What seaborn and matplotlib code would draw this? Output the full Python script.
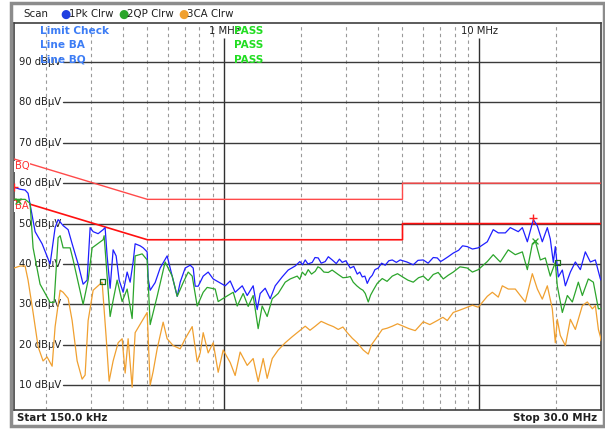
import pandas as pd
import matplotlib
matplotlib.use("Agg")
import matplotlib.pyplot as plt
import matplotlib.transforms as mtrans
from matplotlib.patches import Rectangle
import seaborn as sns

# Trace readings from the screenshot: (frequency MHz, level dBuV)
pk_points = [
    (0.150, 59), (0.1585, 58.5), (0.1658, 58.3), (0.1703, 57.5), (0.1815, 48), (0.1933, 45),
    (0.2078, 40), (0.2174, 49), (0.2234, 51), (0.2337, 49.5), (0.2445, 48.5), (0.2535, 45),
    (0.2676, 40), (0.2799, 35), (0.2902, 36), (0.2982, 49), (0.3064, 48), (0.3205, 47.5),
    (0.3353, 48.5), (0.3414, 49), (0.3476, 42), (0.3572, 34), (0.3670, 43.5), (0.3771, 42),
    (0.3875, 36), (0.4017, 33), (0.4165, 38), (0.4279, 35.5), (0.4396, 40.5), (0.4477, 45),
    (0.4684, 44.5), (0.4813, 44), (0.4989, 43), (0.5035, 36.4), (0.5127, 33.5), (0.5363, 35.4),
    (0.5610, 39), (0.5976, 42), (0.6141, 39), (0.6544, 32), (0.6723, 35.5), (0.7033, 39),
    (0.7358, 39.7), (0.7560, 39), (0.7698, 34.5), (0.7910, 34.5), (0.8274, 37), (0.8655, 38),
    (0.9055, 36.3), (0.9473, 35.6), (1.009, 34.6), (1.056, 35.8), (1.104, 33), (1.177, 34.6),
    (1.231, 32.2), (1.299, 34.6), (1.347, 28.7), (1.384, 32.7), (1.448, 34), (1.515, 31.4),
    (1.585, 34.6), (1.688, 36.8), (1.782, 38.5), (1.898, 39.5), (1.98, 40.6), (2.03, 39.8),
    (2.078, 41), (2.13, 40.0), (2.214, 40.4), (2.27, 41.6), (2.337, 41.5), (2.40, 40.2),
    (2.489, 40.6), (2.56, 41.8), (2.652, 41), (2.75, 40.1), (2.83, 41.2), (2.902, 40.4),
    (3.00, 40.8), (3.120, 39), (3.22, 39.4), (3.323, 37.5), (3.40, 38.0), (3.477, 36.8),
    (3.56, 37.0), (3.638, 35.2), (3.72, 36.5), (3.806, 37.2), (3.90, 38.6), (4.017, 39),
    (4.14, 40.2), (4.279, 39.7), (4.42, 40.8), (4.559, 41), (4.73, 40.4), (4.899, 41),
    (5.2, 40.5), (5.510, 39.8), (5.75, 40.9), (6.031, 41), (6.3, 40.2), (6.6, 41.6),
    (6.844, 41.5), (7.05, 40.6), (7.226, 41), (7.55, 41.8), (7.907, 42.7), (8.3, 43.4),
    (8.6, 44.5), (8.975, 44.3), (9.4, 43.7), (9.910, 44), (10.75, 45.5), (11.34, 48.5),
    (11.87, 47.7), (12.65, 47.7), (13.23, 49), (14.22, 48), (14.75, 49), (15.43, 45.5),
    (16.29, 51), (16.89, 49.4), (17.66, 45.5), (18.48, 49), (18.98, 46.2), (19.51, 40.4),
    (19.86, 44.3), (20.41, 36.8), (21.16, 38.5), (21.75, 34.6), (22.75, 38), (23.80, 40.5),
    (24.90, 38.6), (26.04, 43), (27.25, 40.5), (28.51, 41), (29.83, 36.3), (30.0, 36),
]

qp_points = [
    (0.150, 56), (0.1658, 56), (0.1734, 55), (0.1782, 44), (0.1898, 35), (0.2078, 30.5),
    (0.2154, 30.5), (0.2234, 46.5), (0.2275, 47), (0.2337, 44), (0.2489, 44), (0.2558, 41),
    (0.2799, 30), (0.2929, 36), (0.3037, 44), (0.3353, 46), (0.3384, 47), (0.3476, 37),
    (0.3572, 27), (0.3670, 31), (0.3805, 36), (0.3981, 30.7), (0.4165, 33.8), (0.4357, 26.5),
    (0.4477, 42), (0.4770, 42.5), (0.4989, 41), (0.5127, 25), (0.5461, 32), (0.5869, 40.5),
    (0.6253, 37), (0.6544, 32), (0.6907, 35.4), (0.7226, 38), (0.7492, 37), (0.7838, 29.6),
    (0.8274, 33), (0.8577, 34.2), (0.9220, 33.8), (0.9473, 30.7), (1.009, 31.8), (1.085, 33),
    (1.125, 29.6), (1.187, 32.7), (1.242, 29.5), (1.299, 32.2), (1.359, 24), (1.409, 29.6),
    (1.474, 27), (1.543, 31.4), (1.628, 32.7), (1.735, 35.5), (1.815, 36.3), (1.933, 37),
    (1.98, 36.2), (2.022, 38), (2.08, 37.2), (2.135, 38.6), (2.20, 37.5), (2.275, 38.2),
    (2.33, 39.3), (2.380, 39), (2.46, 38.0), (2.558, 37.9), (2.65, 38.5), (2.800, 37.4),
    (2.92, 36.6), (3.037, 36.7), (3.12, 36.9), (3.205, 35.5), (3.31, 34.6), (3.415, 33.9),
    (3.50, 33.5), (3.573, 32.7), (3.671, 30.6), (3.75, 32.3), (3.840, 33.5), (3.98, 35.2),
    (4.165, 36.4), (4.35, 35.7), (4.559, 37), (4.78, 37.6), (5.035, 36.7), (5.25, 36.0),
    (5.510, 35.5), (5.78, 36.6), (6.031, 37), (6.3, 35.9), (6.601, 37.4), (6.9, 37.9),
    (7.226, 36.3), (7.55, 37.2), (7.907, 38), (8.4, 39.3), (8.975, 39), (9.4, 38.0),
    (9.910, 38.6), (10.75, 40.6), (11.34, 42.3), (11.87, 41), (12.09, 40.5), (12.99, 43.5),
    (13.84, 42.3), (14.75, 43), (15.43, 38.6), (16.14, 45), (16.58, 45.7), (17.35, 41),
    (18.15, 41.5), (18.98, 37), (19.86, 40.4), (20.22, 34.6), (21.16, 28), (22.14, 32.2),
    (23.16, 30.6), (24.45, 35.5), (25.35, 32.2), (26.76, 36.3), (28.00, 35.5), (29.30, 28.9),
    (30.0, 29),
]

ca_points = [
    (0.150, 39), (0.1585, 39.5), (0.1658, 39.5), (0.1703, 36), (0.1782, 28), (0.1865, 19.5),
    (0.1950, 16), (0.2022, 17), (0.2116, 14.7), (0.2174, 24.5), (0.2275, 33.5), (0.2337, 33),
    (0.2445, 31.5), (0.2535, 26), (0.2652, 16), (0.2774, 11.5), (0.2850, 12.5), (0.2929, 26),
    (0.3064, 33.5), (0.3323, 35.5), (0.3445, 22), (0.3540, 11), (0.3670, 16), (0.3840, 20.5),
    (0.3981, 21.5), (0.4091, 13), (0.4202, 21.5), (0.4357, 9.5), (0.4477, 23), (0.4989, 28),
    (0.5127, 10), (0.5267, 13.4), (0.5461, 19), (0.5764, 25.6), (0.5976, 21.5), (0.6310, 19.8),
    (0.6723, 19), (0.7033, 21.5), (0.7492, 24.5), (0.7838, 15.8), (0.8054, 18), (0.8274, 23),
    (0.8655, 18), (0.9055, 20.5), (0.9473, 13.2), (0.9910, 18.7), (1.056, 15.6), (1.104, 12.4),
    (1.155, 18.2), (1.231, 14.9), (1.299, 16.6), (1.359, 10.9), (1.422, 16.6), (1.474, 11.7),
    (1.543, 16.6), (1.628, 18.7), (1.735, 20.5), (1.848, 22), (1.933, 23), (2.078, 24.6),
    (2.17, 23.6), (2.275, 24.6), (2.40, 25.8), (2.558, 25), (2.68, 24.5), (2.800, 23.8),
    (2.92, 24.4), (3.037, 23), (3.18, 21.6), (3.323, 20.5), (3.509, 18.7), (3.671, 17.7),
    (3.78, 20.0), (3.910, 21.3), (4.165, 23.8), (4.35, 24.1), (4.559, 24.6), (4.78, 25.2),
    (5.035, 24.6), (5.3, 24.0), (5.610, 23.5), (6.031, 25.7), (6.4, 25.0), (6.844, 26),
    (7.2, 26.8), (7.492, 26), (7.907, 28), (8.4, 28.6), (8.975, 29.3), (9.4, 29.8),
    (9.910, 29.3), (10.75, 32), (11.25, 33), (11.87, 31.8), (12.31, 34.6), (12.99, 33.8),
    (13.84, 33.8), (15.15, 30.6), (16.14, 37.6), (16.89, 33.8), (17.66, 31.3), (18.48, 34.6),
    (19.33, 28.9), (19.86, 20.5), (20.22, 26.3), (20.78, 22.3), (21.75, 19.8), (22.75, 26.3),
    (23.80, 23.8), (25.35, 29.7), (26.52, 30.6), (27.75, 28.9), (28.51, 29.7), (29.30, 23.8),
    (29.83, 22), (30.0, 21),
]

# final-measurement markers seen on the screen: (freq MHz, level dBuV)
pk_marks = [(0.150, 59), (16.29, 51.3)]
qp_marks = [(0.156, 55.6), (16.5, 45.6)]
box_marks = [(0.333, 35.6), (20.22, 40.4)]

# limit lines
limit_freq = [0.15, 0.5, 5.0, 5.0, 30.0]
bq_level = [66, 56, 56, 60, 60]
ba_level = [56, 46, 46, 50, 50]

grid_levels = [10, 20, 30, 40, 50, 60, 70, 80, 90]
dashed_freqs = [0.2, 0.3, 0.4, 0.5, 0.6, 0.7, 0.8, 0.9,
                2, 3, 4, 5, 6, 7, 8, 9, 20]

sns.set_style("white")
plt.rcParams["font.family"] = ["DejaVu Sans"]

W, H = 605, 429
fig = plt.figure(figsize=(W / 100, H / 100), dpi=100)
fig.patch.set_facecolor("white")

# outer instrument frame
fig.patches.append(Rectangle((11 / W, 3 / H), 593 / W, 423 / H, transform=fig.transFigure,
                             fill=False, edgecolor="#8c8c8c", linewidth=2.5))

ax = fig.add_axes([14 / W, 1 - 410 / H, 587 / W, 387 / H])
ax.set_xscale("log")
ax.set_xlim(0.15, 30)
ax.set_ylim(3.86, 99.65)
ax.set_xticks([])
ax.set_yticks([])
ax.minorticks_off()
for s in ax.spines.values():
    s.set_color("#404040")
    s.set_linewidth(1.2)

# grid
for f in dashed_freqs:
    ax.axvline(f, color="#9a9a9a", lw=0.8, ls=(0, (3, 3)), zorder=1)
for f in [1, 10]:
    ax.vlines(f, 3.86, 95.9, color="#303030", lw=1.0, zorder=1)
for lv in grid_levels:
    ax.axhline(lv, xmin=49 / 587, color="#3a3a3a", lw=1.0, zorder=1)

blend = mtrans.blended_transform_factory(ax.transAxes, ax.transData)
for lv in grid_levels:
    ax.text(5 / 587, lv, f"{lv} dBµV", transform=blend, fontsize=7.2, color="#202020",
            va="center", ha="left", zorder=2,
            bbox=dict(facecolor="white", edgecolor="none", pad=0.2))

ax.text(1, 97.7, "1 MHz", fontsize=7.2, ha="center", va="center", color="#202020", zorder=2)
ax.text(10, 97.7, "10 MHz", fontsize=7.2, ha="center", va="center", color="#202020", zorder=2)

# limit lines
sns.lineplot(x=limit_freq, y=bq_level, ax=ax, color="#ff4a4a", lw=1.0, sort=False,
             estimator=None, zorder=3)
sns.lineplot(x=limit_freq, y=ba_level, ax=ax, color="#ff1010", lw=1.2, sort=False,
             estimator=None, zorder=3)
ax.text(0.151, 64.2, "BQ", fontsize=7.2, color="#ff3030", va="center", ha="left", zorder=4,
        bbox=dict(facecolor="white", edgecolor="none", pad=0.4))
ax.text(0.151, 54.3, "BA", fontsize=7.2, color="#ff3030", va="center", ha="left", zorder=4,
        bbox=dict(facecolor="white", edgecolor="none", pad=0.4))

# traces
pk_freq, pk_level = zip(*pk_points)
qp_freq, qp_level = zip(*qp_points)
ca_freq, ca_level = zip(*ca_points)
traces = pd.concat([
    pd.DataFrame({"freq": pk_freq, "level": pk_level, "trace": "1Pk"}),
    pd.DataFrame({"freq": qp_freq, "level": qp_level, "trace": "2QP"}),
    pd.DataFrame({"freq": ca_freq, "level": ca_level, "trace": "3CA"}),
])
palette = {"1Pk": "#1f1fff", "2QP": "#2ca52c", "3CA": "#f0a030"}
sns.lineplot(data=traces, x="freq", y="level", hue="trace", palette=palette, ax=ax,
             lw=0.9, sort=False, estimator=None, legend=False, zorder=5)

# measurement markers
mx, my = zip(*pk_marks)
sns.scatterplot(x=list(mx), y=list(my), ax=ax, marker="+", color="#ff2020", s=30,
                linewidth=1.0, zorder=7)
mx, my = zip(*qp_marks)
sns.scatterplot(x=list(mx), y=list(my), ax=ax, marker="x", color="#2ca52c", s=18,
                linewidth=0.9, zorder=7)
mx, my = zip(*box_marks)
sns.scatterplot(x=list(mx), y=list(my), ax=ax, marker="s", facecolor="none",
                edgecolor="#1e6e1e", s=14, linewidth=0.9, zorder=7)

# limit check block
for yv, txt in [(97.7, "Limit Check"), (94.2, "Line BA"), (90.5, "Line BQ")]:
    ax.text(0.19, yv, txt, fontsize=7.6, fontweight="bold", color="#3d7df5",
            va="center", zorder=6)
    ax.text(1.09, yv, "PASS", fontsize=7.6, fontweight="bold", color="#22dd22",
            va="center", zorder=6)

# header
hy = 1 - 14 / H
fig.text(23 / W, hy, "Scan", fontsize=7.4, va="center", color="#202020")
for xd, col, lab in [(60, "#1f3fe0", "1Pk Clrw"), (118, "#2ca52c", "2QP Clrw"),
                     (178, "#f0a030", "3CA Clrw")]:
    fig.text(xd / W, hy, "●", fontsize=8.5, va="center", color=col)
    fig.text((xd + 9) / W, hy, lab, fontsize=7.4, va="center", color="#202020")

# footer
fy = 1 - 418 / H
fig.text(17 / W, fy, "Start 150.0 kHz", fontsize=7.4, fontweight="bold", va="center",
         color="#202020")
fig.text(597 / W, fy, "Stop 30.0 MHz", fontsize=7.4, fontweight="bold", va="center",
         ha="right", color="#202020")

fig.savefig("out.png", dpi=100, facecolor="white")
